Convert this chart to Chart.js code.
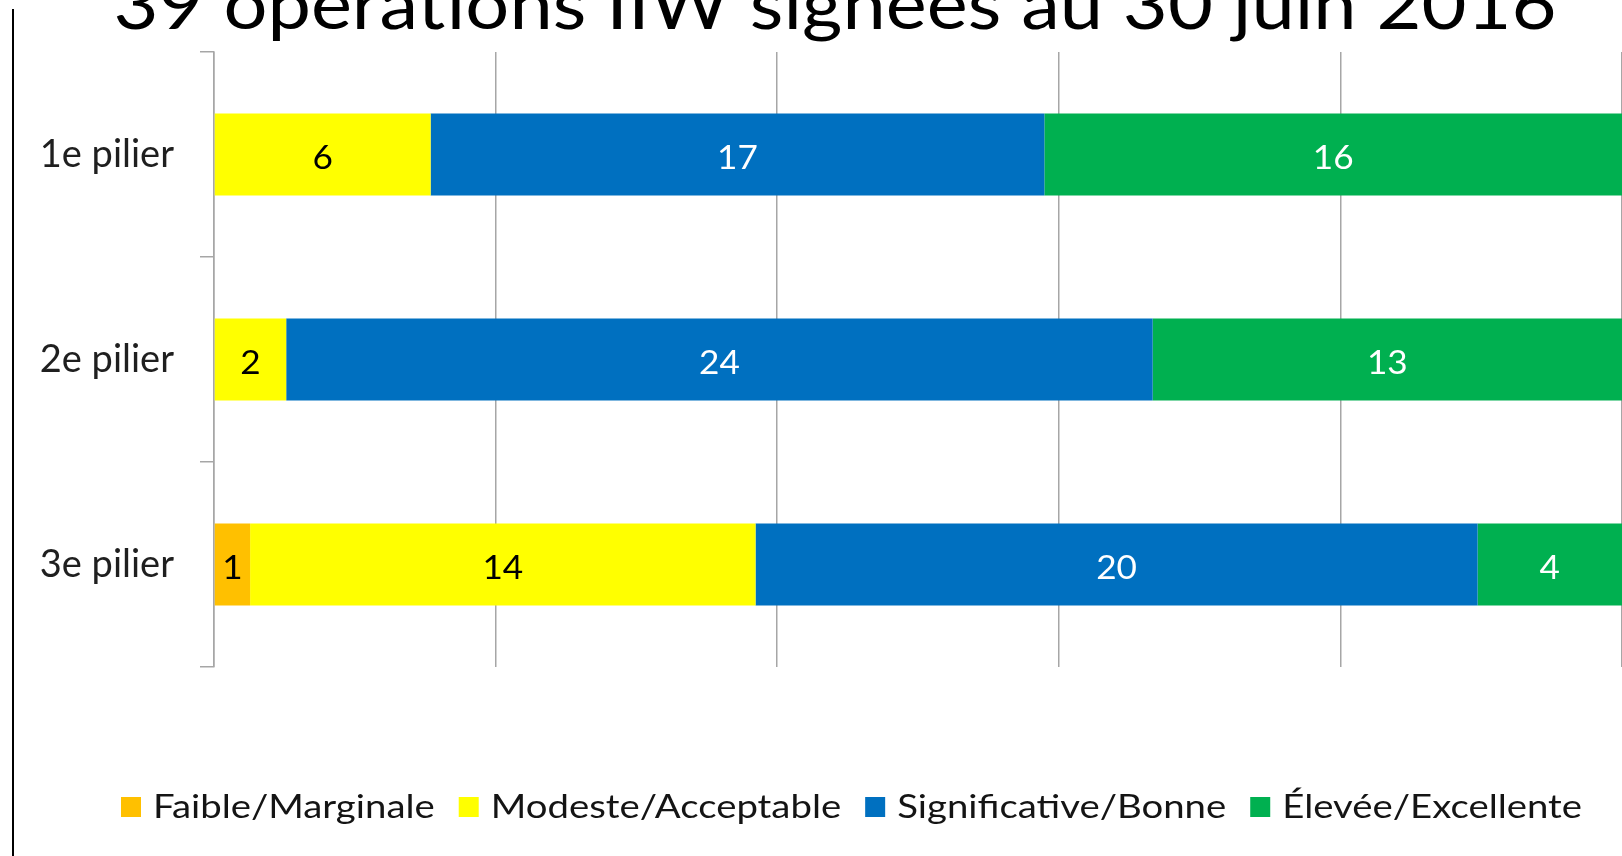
<!DOCTYPE html>
<html><head><meta charset="utf-8">
<script src="https://cdn.jsdelivr.net/npm/chart.js@4.4.1/dist/chart.umd.min.js"></script>
<style>html,body{margin:0;padding:0;background:#fff;overflow:hidden}#wrap{width:1622px;height:856px;position:relative}</style>
</head><body><div id="wrap"><canvas id="c" width="1622" height="856"></canvas></div>
<script>
const chartTitle = '39 opérations IIW signées au 30 juin 2016';
const categories = ['1e pilier', '2e pilier', '3e pilier'];
const seriesNames = ['Faible/Marginale', 'Modeste/Acceptable', 'Significative/Bonne', 'Élevée/Excellente'];
const faible = [0, 0, 1];
const modeste = [6, 2, 14];
const significative = [17, 24, 20];
const elevee = [16, 13, 4];
const xTicks = [0, 20, 40, 60, 80, 100];

const seriesCounts = [faible, modeste, significative, elevee];
const seriesColors = ['#FFC000', '#FFFF00', '#0070C0', '#00B050'];
const labelColors = ['#000000', '#000000', '#FFFFFF', '#FFFFFF'];
const totals = categories.map((_, i) => seriesCounts.reduce((s, arr) => s + arr[i], 0));

const datasets = seriesCounts.map((arr, k) => ({
  label: seriesNames[k],
  data: arr.map((v, i) => v / totals[i] * 100),
  counts: arr,
  backgroundColor: seriesColors[k],
  borderWidth: 0,
  categoryPercentage: 1.0,
  barPercentage: 0.4
}));

const decor = {
  id: 'decor',
  beforeDraw(chart) {
    const ctx = chart.ctx;
    ctx.save();
    ctx.fillStyle = '#000';
    ctx.fillRect(12, 9, 2, chart.height - 9);
    ctx.restore();
  },
  afterDatasetsDraw(chart) {
    const ctx = chart.ctx;
    ctx.save();
    ctx.font = '32px Lato';
    ctx.textAlign = 'center';
    ctx.textBaseline = 'middle';
    chart.data.datasets.forEach((ds, k) => {
      const meta = chart.getDatasetMeta(k);
      meta.data.forEach((el, i) => {
        const v = ds.counts[i];
        if (!v) return;
        const p = el.getCenterPoint();
        ctx.fillStyle = labelColors[k];
        ctx.save();
        ctx.translate(p.x, p.y + 4);
        ctx.scale(1.1, 1);
        ctx.fillText(String(v), 0, 0);
        ctx.restore();
      });
    });
    ctx.restore();
  },
  afterDraw(chart) {
    const ctx = chart.ctx;
    ctx.save();
    // title (partly cut off at the top, as in the reference)
    ctx.font = '70px Lato';
    ctx.fillStyle = '#000';
    ctx.textBaseline = 'alphabetic';
    ctx.textAlign = 'center';
    const tw = ctx.measureText(chartTitle).width;
    const tsx = 1443 / tw;
    ctx.translate(835, 29);
    ctx.scale(tsx, 1);
    ctx.fillText(chartTitle, 0, 0);
    ctx.restore();

    // legend
    ctx.save();
    ctx.font = '32px Lato';
    ctx.textBaseline = 'middle';
    ctx.textAlign = 'left';
    const targetTextTotal = 1261;
    const widths = seriesNames.map(n => ctx.measureText(n).width);
    const lsx = targetTextTotal / widths.reduce((a, b) => a + b, 0);
    let x = 121;
    const yc = 807;
    seriesNames.forEach((n, k) => {
      ctx.fillStyle = seriesColors[k];
      ctx.fillRect(x, yc - 10, 20, 20);
      x += 32;
      ctx.fillStyle = '#141414';
      ctx.save();
      ctx.translate(x, yc + 1);
      ctx.scale(lsx, 1);
      ctx.fillText(n, 0, 0);
      ctx.restore();
      x += widths[k] * lsx + 24;
    });
    ctx.restore();
  }
};

new Chart(document.getElementById('c'), {
  type: 'bar',
  data: { labels: categories, datasets },
  options: {
    indexAxis: 'y',
    responsive: false,
    animation: false,
    layout: { padding: { top: 52, bottom: 189, left: 0, right: 0 } },
    plugins: { legend: { display: false }, title: { display: false }, tooltip: { enabled: false } },
    scales: {
      x: {
        stacked: true,
        min: xTicks[0],
        max: xTicks[xTicks.length - 1],
        afterBuildTicks(scale) { scale.ticks = xTicks.map(v => ({ value: v })); },
        ticks: { display: false },
        grid: { color: '#A6A6A6', lineWidth: 1.5, drawTicks: false },
        border: { display: false }
      },
      y: {
        stacked: true,
        afterFit(scale) { scale.width = 214; },
        ticks: { font: { family: 'Lato', size: 38 }, color: '#1f1f1f', padding: 26 },
        grid: { offset: true, drawOnChartArea: false, tickLength: 14, color: '#A6A6A6', lineWidth: 1.5 },
        border: { display: true, color: '#A6A6A6', width: 1.5 }
      }
    }
  },
  plugins: [decor]
});
</script>
</body></html>
